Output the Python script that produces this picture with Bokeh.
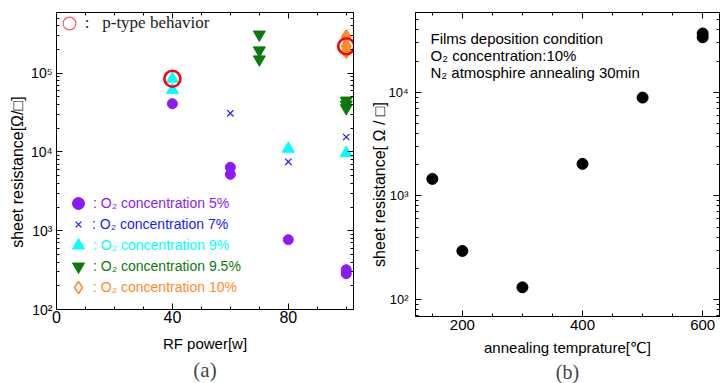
import math
from bokeh.plotting import figure
from bokeh.layouts import row, column
from bokeh.models import (FixedTicker, LinearAxis, LogAxis, Legend, LegendItem,
                          CustomJSTickFormatter, Title, Label)
from bokeh.embed import file_html
from bokeh.resources import INLINE

# ---------------- data (a) ----------------
rf_5 = [40, 60, 60, 80, 100, 100]
res_5 = [4.1e4, 6.4e3, 5.2e3, 770, 320, 285]
rf_7 = [60, 80, 100]
res_7 = [3.1e4, 7.5e3, 1.55e4]
rf_9 = [40, 40, 80, 100]
res_9 = [8.5e4, 6.1e4, 1.1e4, 9.7e3]
rf_95 = [70, 70, 70, 100, 100, 100]
res_95 = [3.1e5, 1.95e5, 1.5e5, 4.5e4, 4.0e4, 3.6e4]
rf_10 = [100, 100, 100]
res_10 = [2.9e5, 2.2e5, 1.9e5]
ptype_rf = [40, 100]
ptype_res = [8.5e4, 2.2e5]

labels_a = [": O\u2082 concentration 5%", ": O\u2082 concentration 7%",
            ": O\u2082 concentration 9%", ": O\u2082 concentration 9.5%",
            ": O\u2082 concentration 10%"]
ptype_label = ":\u00a0\u00a0\u00a0p-type behavior"

# ---------------- data (b) ----------------
temp = [150, 200, 300, 400, 500, 600, 600]
res_b = [1460, 294, 131, 2040, 8900, 3.7e4, 3.4e4]
notes_b = ["Films deposition condition", "O\u2082 concentration:10%",
           "N\u2082 atmosphire annealing 30min"]

SANS = "'Liberation Sans', 'DejaVu Sans'"
SERIF = "'Liberation Serif', 'DejaVu Serif'"
C5, C7, C9, C95, C10 = "#8c1aff", "#1a1aff", "#00ffff", "#0a7a0a", "#ff8c28"
NB = "\u00a0"

sup = CustomJSTickFormatter(code="""
const s = {"1":"\u00b9","2":"\u00b2","3":"\u00b3","4":"\u2074","5":"\u2075","6":"\u2076"};
const e = Math.round(Math.log10(tick));
return "10" + (s[String(e)] || String(e));
""")
blank = CustomJSTickFormatter(code="return '';")


def log_minor(lo, hi):
    out = []
    for e in range(lo, hi + 1):
        for k in range(1, 10):
            out.append(k * 10 ** e)
    return out


def style(p, xt, yt, xlabel, ylabel, xfs, yfs):
    p.xgrid.visible = False
    p.ygrid.visible = False
    p.outline_line_color = "black"
    p.background_fill_color = "white"
    bx = p.below[0]
    ly = p.left[0]
    bx.ticker = xt
    ly.ticker = yt
    ly.formatter = sup
    top = LinearAxis(ticker=xt, formatter=blank, major_label_standoff=0,
                     major_label_text_font_size="1px")
    right = LogAxis(ticker=yt, formatter=blank, major_label_standoff=0,
                    major_label_text_font_size="1px")
    p.add_layout(top, "above")
    p.add_layout(right, "right")
    for ax in [bx, ly, top, right]:
        ax.axis_line_color = "black"
        ax.major_tick_line_color = "black"
        ax.minor_tick_line_color = "black"
        ax.major_tick_in = 6
        ax.major_tick_out = 0
        ax.minor_tick_in = 3
        ax.minor_tick_out = 0
        ax.major_label_text_font = SANS
        ax.major_label_text_color = "black"
    bx.major_label_text_font_size = xfs
    ly.major_label_text_font_size = yfs
    bx.axis_label_text_font_size = "15px"
    ly.axis_label_text_font_size = "16px"
    for ax in [bx, ly]:
        ax.axis_label_text_font = SANS
        ax.axis_label_text_font_style = "normal"
        ax.axis_label_text_color = "black"
    bx.axis_label = xlabel
    ly.axis_label = ylabel
    return bx, ly


# ---------------- figure (a) ----------------
pa = figure(width=362, height=383, x_range=(0, 102.5), y_range=(100, 5.9e5),
            y_axis_type="log", output_backend="svg", toolbar_location=None,
            min_border_left=56, min_border_right=9, min_border_top=12,
            min_border_bottom=73)
bxa, lya = style(pa, FixedTicker(ticks=[0, 40, 80], minor_ticks=list(range(0, 110, 10))),
                 FixedTicker(ticks=[1e2, 1e3, 1e4, 1e5], minor_ticks=log_minor(2, 5)),
                 "RF power[w]", "sheet resistance[\u03a9/\u25a1]" + NB * 5,
                 "16px", "14px")
bxa.major_label_standoff = 1
bxa.axis_label_standoff = 9
lya.major_label_standoff = 4
lya.axis_label_standoff = 2

r5 = pa.scatter(rf_5, res_5, marker="circle", size=10, color=C5)
r7 = pa.scatter(rf_7, res_7, marker="x", size=9, line_color=C7, line_width=1.2)
r9 = pa.scatter(rf_9, res_9, marker="triangle", size=12, color=C9)
r95 = pa.scatter(rf_95, res_95, marker="inverted_triangle", size=12, color=C95)
r10 = pa.scatter(rf_10, res_10, marker="diamond", size=14, color=C10)
r10o = pa.scatter(rf_10, res_10, marker="diamond", size=14,
                  line_color=C10, fill_color="white", fill_alpha=0, line_width=1.5)
rpt_thin = pa.scatter(ptype_rf, ptype_res, marker="circle", size=16,
                      line_color="#f06060", fill_alpha=0, line_width=1.2)
rpt = pa.scatter(ptype_rf, ptype_res, marker="circle", size=16,
                 line_color="#ff0000", fill_alpha=0, line_width=2.6)

FRAME_L_A = 56
FRAME_B_A = 310


def add_legend(p, rend, label, color, cx_page, cy_page, msize, text_x_page,
               frame_l, frame_b, font=SANS, fsize="14px"):
    g = msize / 0.4
    cx = cx_page - frame_l
    cy = frame_b - cy_page
    h = max(g, 20)
    leg = Legend(items=[LegendItem(label=label, renderers=[rend])],
                 location=(cx - g / 2, cy - h / 2), glyph_width=int(round(g)),
                 glyph_height=int(round(g)), label_height=int(round(g)),
                 label_standoff=int(round(text_x_page - frame_l - (cx + g / 2))),
                 padding=0, margin=0, spacing=0, border_line_alpha=0,
                 background_fill_alpha=0, label_text_font=font,
                 label_text_font_size=fsize, label_text_color=color,
                 label_text_baseline="middle")
    p.add_layout(leg)


add_legend(pa, rpt_thin, ptype_label, "#222222", 69, 24, 13, 85,
           FRAME_L_A, FRAME_B_A, font=SERIF, fsize="17px")
leg_rows = [(r5, C5, 12), (r7, C7, 8), (r9, C9, 12), (r95, C95, 12), (r10o, C10, 12)]
for i, (rend, col, ms) in enumerate(leg_rows):
    add_legend(pa, rend, labels_a[i], col, 78, 204 + 21 * i, ms, 92,
               FRAME_L_A, FRAME_B_A)

pa.add_layout(Title(text="(a)", align="center", text_font=SERIF,
                    text_font_size="21px", text_font_style="normal",
                    standoff=3), "below")

# ---------------- figure (b) ----------------
pb = figure(width=365, height=383, x_range=(122, 628), y_range=(68.5, 5.9e4),
            y_axis_type="log", output_backend="svg", toolbar_location=None,
            min_border_left=53, min_border_right=8, min_border_top=12,
            min_border_bottom=67)
bxb, lyb = style(pb, FixedTicker(ticks=[200, 400, 600], minor_ticks=list(range(150, 650, 50))),
                 FixedTicker(ticks=[1e2, 1e3, 1e4], minor_ticks=log_minor(1, 4)),
                 "annealing temprature[\u2103]",
                 "sheet resistance[ \u03a9 / \u25a1]" + NB * 9, "15px", "13px")
bxb.major_label_standoff = 3
bxb.axis_label_standoff = 6
lyb.major_label_standoff = 7
lyb.axis_label_standoff = -3
pb.scatter(temp, res_b, marker="circle", size=11, color="black")

for i, t in enumerate(notes_b):
    pb.add_layout(Label(x=15, y=278 - 17 * i, x_units="screen",
                        y_units="screen", text=t, text_font=SANS,
                        text_font_size="15px", text_color="black",
                        text_baseline="middle"))

pb.add_layout(Title(text="(b)", align="center", text_font=SERIF,
                    text_font_size="20px", text_font_style="normal",
                    standoff=0), "below")

layout = row(column(pa), column(pb))
open("out.html", "w").write(file_html(layout, INLINE))
